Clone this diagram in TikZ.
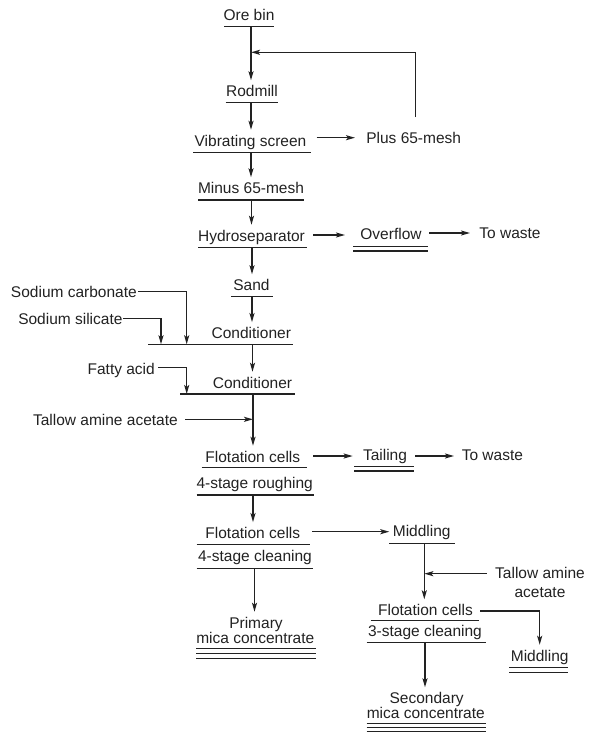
\documentclass[tikz,border=0pt]{standalone}
\usepackage{fontspec}
\setmainfont{Liberation Sans}
\usetikzlibrary{arrows.meta}
\definecolor{inkc}{HTML}{222222}
\begin{document}
\begin{tikzpicture}[x=1pt,y=-1pt,
  ink/.style={draw=inkc, line width=1.5pt},
  arr/.style={ink, -{Stealth[length=9pt,width=5pt,inset=2pt]}},
  lbl/.style={inner xsep=0pt, inner ysep=4pt, text height=12pt, text depth=3.5pt,
              anchor=base, text=inkc, font=\fontsize{15.5}{18}\selectfont},
]
\useasboundingbox[fill=white] (0,0) rectangle (591,734);

% ---------- text of the flowsheet ----------
\node[lbl] (ore)    at (249,20.5)    {Ore bin};
\node[lbl] (rod)    at (252,96.5)    {Rodmill};
\node[lbl] (vib)    at (250.5,146)   {Vibrating screen};
\node[lbl] (plus)   at (413.7,143.5) {Plus 65-mesh};
\node[lbl] (minus)  at (251,193.5)   {Minus 65-mesh};
\node[lbl] (hyd)    at (251.5,241)   {Hydroseparator};
\node[lbl] (over)   at (391,239)     {Overflow};
\node[lbl] (waste1) at (510,238)     {To waste};
\node[lbl] (sand)   at (251.5,290.5) {Sand};
\node[lbl,anchor=base east] (soc) at (137,297)   {Sodium carbonate};
\node[lbl,anchor=base east] (sos) at (122.7,324) {Sodium silicate};
\node[lbl] (cond1)  at (251.3,338.3) {Conditioner};
\node[lbl,anchor=base east] (fat) at (155,374)   {Fatty acid};
\node[lbl] (cond2)  at (252.5,388)   {Conditioner};
\node[lbl,anchor=base east] (tal1) at (178,425.5) {Tallow amine acetate};
\node[lbl] (flot1)  at (252.8,462)   {Flotation cells};
\node[lbl] (rough)  at (254.7,488)   {4-stage roughing};
\node[lbl] (tail)   at (385,460)     {Tailing};
\node[lbl] (waste2) at (492.4,460.5) {To waste};
\node[lbl] (flot2)  at (252.8,538.3) {Flotation cells};
\node[lbl] (clean4) at (255,561.7)   {4-stage cleaning};
\node[lbl] (mid1)   at (421.7,536.7) {Middling};
\node[lbl] (prim1)  at (256,628)     {Primary};
\node[lbl] (prim2)  at (255.3,643)   {mica concentrate};
\node[lbl] (tal2a)  at (540,578.8)   {Tallow amine};
\node[lbl] (tal2b)  at (540,597)     {acetate};
\node[lbl] (flot3)  at (425.5,615.5) {Flotation cells};
\node[lbl] (clean3) at (425,636)     {3-stage cleaning};
\node[lbl] (mid2)   at (539.7,661)   {Middling};
\node[lbl] (sec1)   at (426.7,703.5) {Secondary};
\node[lbl] (sec2)   at (425.8,718.8) {mica concentrate};

% ---------- underlines (single, double, triple) ----------
\draw[ink] (224,26.7) -- (274,26.7);
\draw[ink] (225.7,102.7) -- (277.7,102.7);
\draw[ink] (193.3,152.3) -- (311,152.3);
\draw[ink] (198,200) -- (304,200);
\draw[ink] (198,247.7) -- (307,247.7);
\draw[ink] (353,246.7) -- (428,246.7) (353,251) -- (428,251);
\draw[ink] (231,296.7) -- (273,296.7);
\draw[ink] (148,344.3) -- (293.3,344.3);
\draw[ink] (180,394) -- (295,394);
\draw[ink] (201.7,467.7) -- (306.7,467.7);
\draw[ink] (196.7,495) -- (314.3,495);
\draw[ink] (354,466.7) -- (414,466.7) (354,471) -- (414,471);
\draw[ink] (196.7,544.3) -- (310,544.3);
\draw[ink] (196.7,568.3) -- (313.3,568.3);
\draw[ink] (389.3,543.3) -- (455,543.3);
\draw[ink] (196,648.3) -- (316,648.3) (196,653.3) -- (316,653.3) (196,658.3) -- (316,658.3);
\draw[ink] (370.7,620.7) -- (479.3,620.7);
\draw[ink] (366.7,642.3) -- (486,642.3);
\draw[ink] (509.3,667.3) -- (568.3,667.3) (509.3,672.7) -- (568.3,672.7);
\draw[ink] (366.7,723.3) -- (486,723.3) (366.7,727.5) -- (486,727.5) (366.7,731.7) -- (486,731.7);

% ---------- connection points ----------
\coordinate (ore-out)    at (251,26.7);
\coordinate (fb-in)      at (251,52.3);
\coordinate (plus-top)   at (415.7,117);
\coordinate (rod-out)    at (251,102.7);
\coordinate (vib-out)    at (251,152.3);
\coordinate (minus-out)  at (251.5,200);
\coordinate (hyd-out)    at (252,247.7);
\coordinate (sand-out)   at (252,296.7);
\coordinate (cond1-out)  at (252.5,344.3);
\coordinate (cond2-out)  at (253,394);
\coordinate (tal1-in)    at (253,419.3);
\coordinate (rough-out)  at (253,495);
\coordinate (clean4-out) at (254.5,568.3);
\coordinate (mid1-out)   at (424.3,543.3);
\coordinate (tal2-in)    at (424.3,573.7);
\coordinate (clean3-out) at (425,642.3);
\coordinate (soc-in)     at (186.7,344.3);
\coordinate (sos-in)     at (161,344.3);
\coordinate (fat-in)     at (186.7,394);
\coordinate (soc-r)      at (138,291.7);
\coordinate (sos-r)      at (123,318.3);
\coordinate (fat-r)      at (158,367.3);
\coordinate (tal1-r)     at (185,419.3);
\coordinate (tal2-l)     at (486.5,573.7);
\coordinate (vib-r)      at (316.7,137.7);
\coordinate (plus-l)     at (355,137.7);
\coordinate (hyd-r)      at (313,235);
\coordinate (over-l)     at (345,235);
\coordinate (over-r)     at (429,233);
\coordinate (waste1-l)   at (470,233);
\coordinate (flot1-r)    at (313.3,456);
\coordinate (tail-l)     at (352.7,456);
\coordinate (tail-r)     at (415,456);
\coordinate (waste2-l)   at (454,456);
\coordinate (flot2-r)    at (312.3,531.7);
\coordinate (mid1-l)     at (389.3,531.7);
\coordinate (flot3-r)    at (480,611);

% ---------- main stream ----------
\draw[arr] (ore-out)    -- (ore-out |- rod.north);
\draw[arr] (plus-top)   |- (fb-in);
\draw[arr] (rod-out)    -- (rod-out |- vib.north);
\draw[arr] (vib-out)    -- (vib-out |- minus.north);
\draw[arr] (minus-out)  -- (minus-out |- hyd.north);
\draw[arr] (hyd-out)    -- (hyd-out |- sand.north);
\draw[arr] (sand-out)   -- (sand-out |- cond1.north);
\draw[arr] (cond1-out)  -- (cond1-out |- cond2.north);
\draw[arr] (cond2-out)  -- (cond2-out |- flot1.north);
\draw[arr] (rough-out)  -- (rough-out |- flot2.north);
\draw[arr] (clean4-out) -- (clean4-out |- prim1.north);
\draw[arr] (mid1-out)   -- (mid1-out |- flot3.north);
\draw[arr] (clean3-out) -- (clean3-out |- sec1.north);

% ---------- side streams ----------
\draw[arr] (vib-r)   -- (plus-l);
\draw[arr] (hyd-r)   -- (over-l);
\draw[arr] (over-r)  -- (waste1-l);
\draw[arr] (flot1-r) -- (tail-l);
\draw[arr] (tail-r)  -- (waste2-l);
\draw[arr] (flot2-r) -- (mid1-l);
\draw[arr] (flot3-r) -| (mid2.north);

% ---------- reagent additions ----------
\draw[arr] (soc-r)  -| (soc-in);
\draw[arr] (sos-r)  -| (sos-in);
\draw[arr] (fat-r)  -| (fat-in);
\draw[arr] (tal1-r) -- (tal1-in);
\draw[arr] (tal2-l) -- (tal2-in);
\end{tikzpicture}
\end{document}
